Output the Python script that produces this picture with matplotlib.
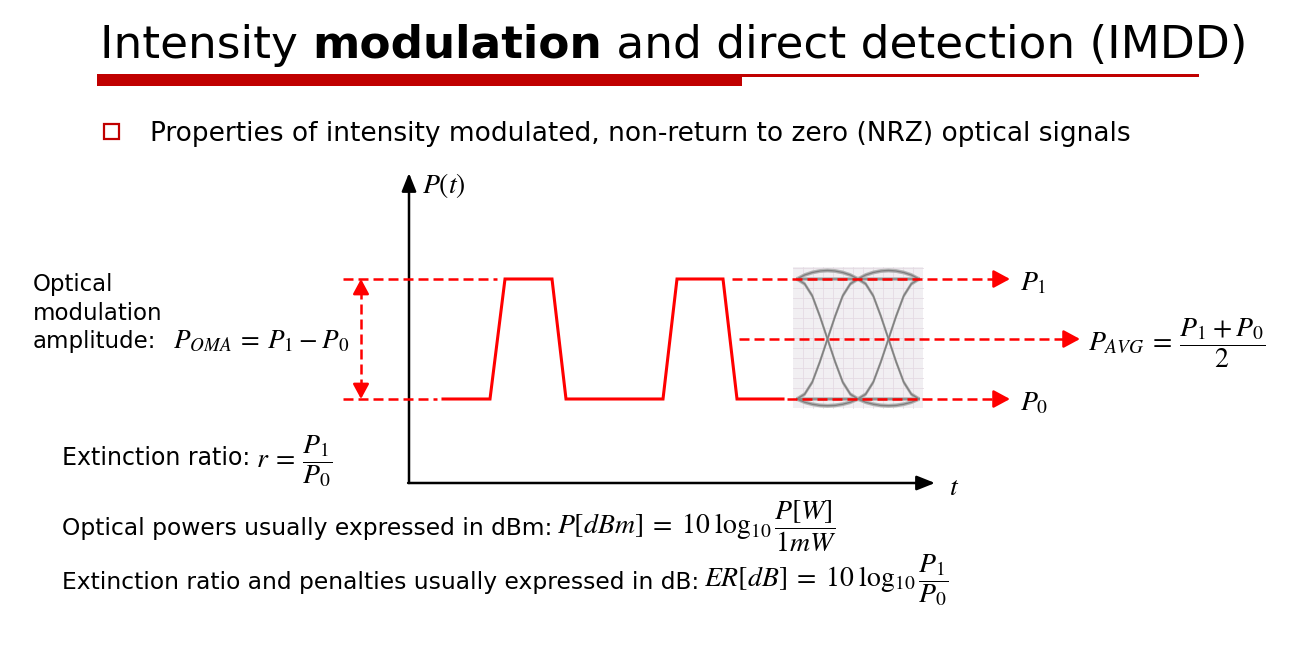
import matplotlib
matplotlib.use("Agg")
import matplotlib.pyplot as plt
from matplotlib.patches import Rectangle
import numpy as np

plt.rcParams['font.family'] = ['DejaVu Sans']
plt.rcParams['mathtext.fontset'] = 'stix'

RED = '#ff0000'
DARKRED = '#c00000'

#%% data: power levels and NRZ bit pattern (power in arb. units, time in arb. units)
P0 = 0.84
P1 = 2.04
P_AVG = 1.44
nrz_t = [3.4, 8.1, 9.6, 14.3, 15.7, 25.4, 26.8, 31.4, 32.8, 37.4]
nrz_p = [P0, P0, P1, P1, P0, P0, P1, P1, P0, P0]

# eye diagram: one transition shape (normalised, 1 -> 0)
eye_t0 = 38.8
eye_period = 6.1
eye_fall = [1.0, 0.96, 0.86, 0.69, 0.5, 0.31, 0.14, 0.04, 0.0]
eye_arc = [0.0, 0.04, 0.065, 0.08, 0.085, 0.08, 0.065, 0.04, 0.0]

#%% figure: one axes in slide pixels, one in signal units on top
fig = plt.figure(figsize=(13.06, 6.51), dpi=100)
slide = fig.add_axes([0, 0, 1, 1])
slide.set_xlim(0, 1306)
slide.set_ylim(651, 0)
slide.axis('off')

ax = fig.add_axes([0, 0, 1, 1])
ax.patch.set_alpha(0)
# origin of the P(t) axes sits at pixel (409, 483); 10 px per t unit, 100 px per P unit
ax.set_xlim(-40.9, 89.7)
ax.set_ylim(-1.68, 4.83)
ax.axis('off')

renderer = fig.canvas.get_renderer()


def right_of(prev, y, s, gap=0, **kw):
    bb = prev.get_window_extent(renderer=renderer)
    x = slide.transData.inverted().transform((bb.x1, 0))[0]
    return slide.text(x + gap, y, s, **kw)


def head(x0, y0, x1, y1, color, scale=20):
    ax.annotate('', xy=(x1, y1), xytext=(x0, y0),
                arrowprops=dict(arrowstyle='-|>,head_length=0.5,head_width=0.27',
                                color=color, lw=1.8, shrinkA=0, shrinkB=0,
                                mutation_scale=scale), zorder=6)


#%% title + bar
t1 = slide.text(100, 58, "Intensity ", fontsize=32.7, va='baseline')
t2 = right_of(t1, 58, "modulation", fontsize=32.7, fontweight='bold', va='baseline')
right_of(t2, 58, " and direct detection (IMDD)", fontsize=32.7, va='baseline')
slide.add_patch(Rectangle((97, 74), 645, 12, color=DARKRED, lw=0))
slide.add_patch(Rectangle((742, 74), 457, 2.5, color=DARKRED, lw=0))

slide.add_patch(Rectangle((104, 124), 15, 15, fill=False, ec=DARKRED, lw=1.6))
slide.text(150, 141, "Properties of intensity modulated, non-return to zero (NRZ) optical signals",
           fontsize=19, va='baseline')

#%% eye diagram
ax.add_patch(Rectangle((38.4, 0.75), 13.0, 1.41, fc='#f1eff2', ec='none', zorder=1))
for gx in np.arange(39.4, 51.4, 1.0):
    ax.plot([gx, gx], [0.75, 2.16], color='#e5dae3', lw=0.6, zorder=1)
for gy in np.arange(0.85, 2.16, 0.1):
    ax.plot([38.4, 51.4], [gy, gy], color='#e5dae3', lw=0.6, zorder=1)

for k in range(2):
    ts = [eye_t0 + k * eye_period + eye_period * i / 8 for i in range(9)]
    fall = [P0 + (P1 - P0) * v for v in eye_fall]
    rise = [P1 - (P1 - P0) * v for v in eye_fall]
    top = [P1 + v for v in eye_arc]
    bot = [P0 - 0.8 * v for v in eye_arc]
    for dy, col in [(-0.012, '#b4b4b4'), (0.012, '#b4b4b4'), (0, '#808080')]:
        for ys in (fall, rise, top, bot):
            ax.plot(ts, [y + dy for y in ys], color=col, lw=1.1, zorder=2)
        ax.plot([ts[0], ts[-1]], [P1 + dy, P1 + dy], color=col, lw=1.1, zorder=2)
        ax.plot([ts[0], ts[-1]], [P0 + dy, P0 + dy], color=col, lw=1.1, zorder=2)

#%% axes arrows
ax.annotate('', xy=(0, 3.10), xytext=(0, 0),
            arrowprops=dict(arrowstyle='-|>,head_length=0.55,head_width=0.22', color='k',
                            lw=1.8, shrinkA=0, shrinkB=0, mutation_scale=20))
ax.annotate('', xy=(52.6, 0), xytext=(-0.09, 0),
            arrowprops=dict(arrowstyle='-|>,head_length=0.55,head_width=0.22', color='k',
                            lw=1.8, shrinkA=0, shrinkB=0, mutation_scale=20))
slide.text(422, 193, r"$P(t)$", fontsize=20, va='baseline')
slide.text(949, 495, r"$t$", fontsize=20, va='baseline')

#%% NRZ waveform
ax.plot(nrz_t, nrz_p, color=RED, lw=2.2, zorder=4, solid_joinstyle='miter')

#%% dashed level lines
dash = dict(color=RED, lw=1.8, dashes=(4, 2), zorder=5)
ax.plot([-6.6, 8.8], [P1, P1], **dash)
ax.plot([-6.6, 2.8], [P0, P0], **dash)
ax.plot([32.3, 59.0], [P1, P1], **dash)
ax.plot([33.0, 66.0], [P_AVG, P_AVG], **dash)
ax.plot([37.8, 59.0], [P0, P0], **dash)
head(58.9, P1, 60.1, P1, RED)
head(58.9, P0, 60.1, P0, RED)
head(65.9, P_AVG, 67.1, P_AVG, RED)

# OMA double arrow
ax.plot([-4.8, -4.8], [P0 + 0.1, P1 - 0.1], **dash)
head(-4.8, P1 - 0.12, -4.8, P1, RED, scale=18)
head(-4.8, P0 + 0.12, -4.8, P0, RED, scale=18)

#%% labels right
slide.text(1020, 290, r"$P_1$", fontsize=20, va='baseline')
slide.text(1020, 410, r"$P_0$", fontsize=20, va='baseline')
slide.text(1088, 343, r"$P_{AVG}\:=\:\dfrac{P_1\:+\:P_0}{2}$", fontsize=20, va='center')

#%% labels left
slide.text(33, 291, "Optical", fontsize=16.5, va='baseline')
slide.text(33, 320, "modulation", fontsize=16.5, va='baseline')
slide.text(33, 348, "amplitude:", fontsize=16.5, va='baseline')
slide.text(173, 348, r"$P_{OMA}\:=\:P_1\:-\:P_0$", fontsize=19.5, va='baseline')

e1 = slide.text(62, 465, "Extinction ratio: ", fontsize=17, va='baseline')
right_of(e1, 461, r"$r\:=\:\dfrac{P_1}{P_0}$", gap=-2, fontsize=20, va='center')

#%% bottom lines
b1 = slide.text(62, 535, "Optical powers usually expressed in dBm: ", fontsize=16.8, va='baseline')
right_of(b1, 526, r"$P[dBm]\;=\;10\;\log_{10}\dfrac{P[W]}{1mW}$", gap=-3, fontsize=20, va='center')
b2 = slide.text(62, 589, "Extinction ratio and penalties usually expressed in dB: ",
                fontsize=16.8, va='baseline')
right_of(b2, 580, r"$ER[dB]\;=\;10\;\log_{10}\dfrac{P_1}{P_0}$", gap=-3, fontsize=20, va='center')

fig.savefig("out.png", dpi=100)
